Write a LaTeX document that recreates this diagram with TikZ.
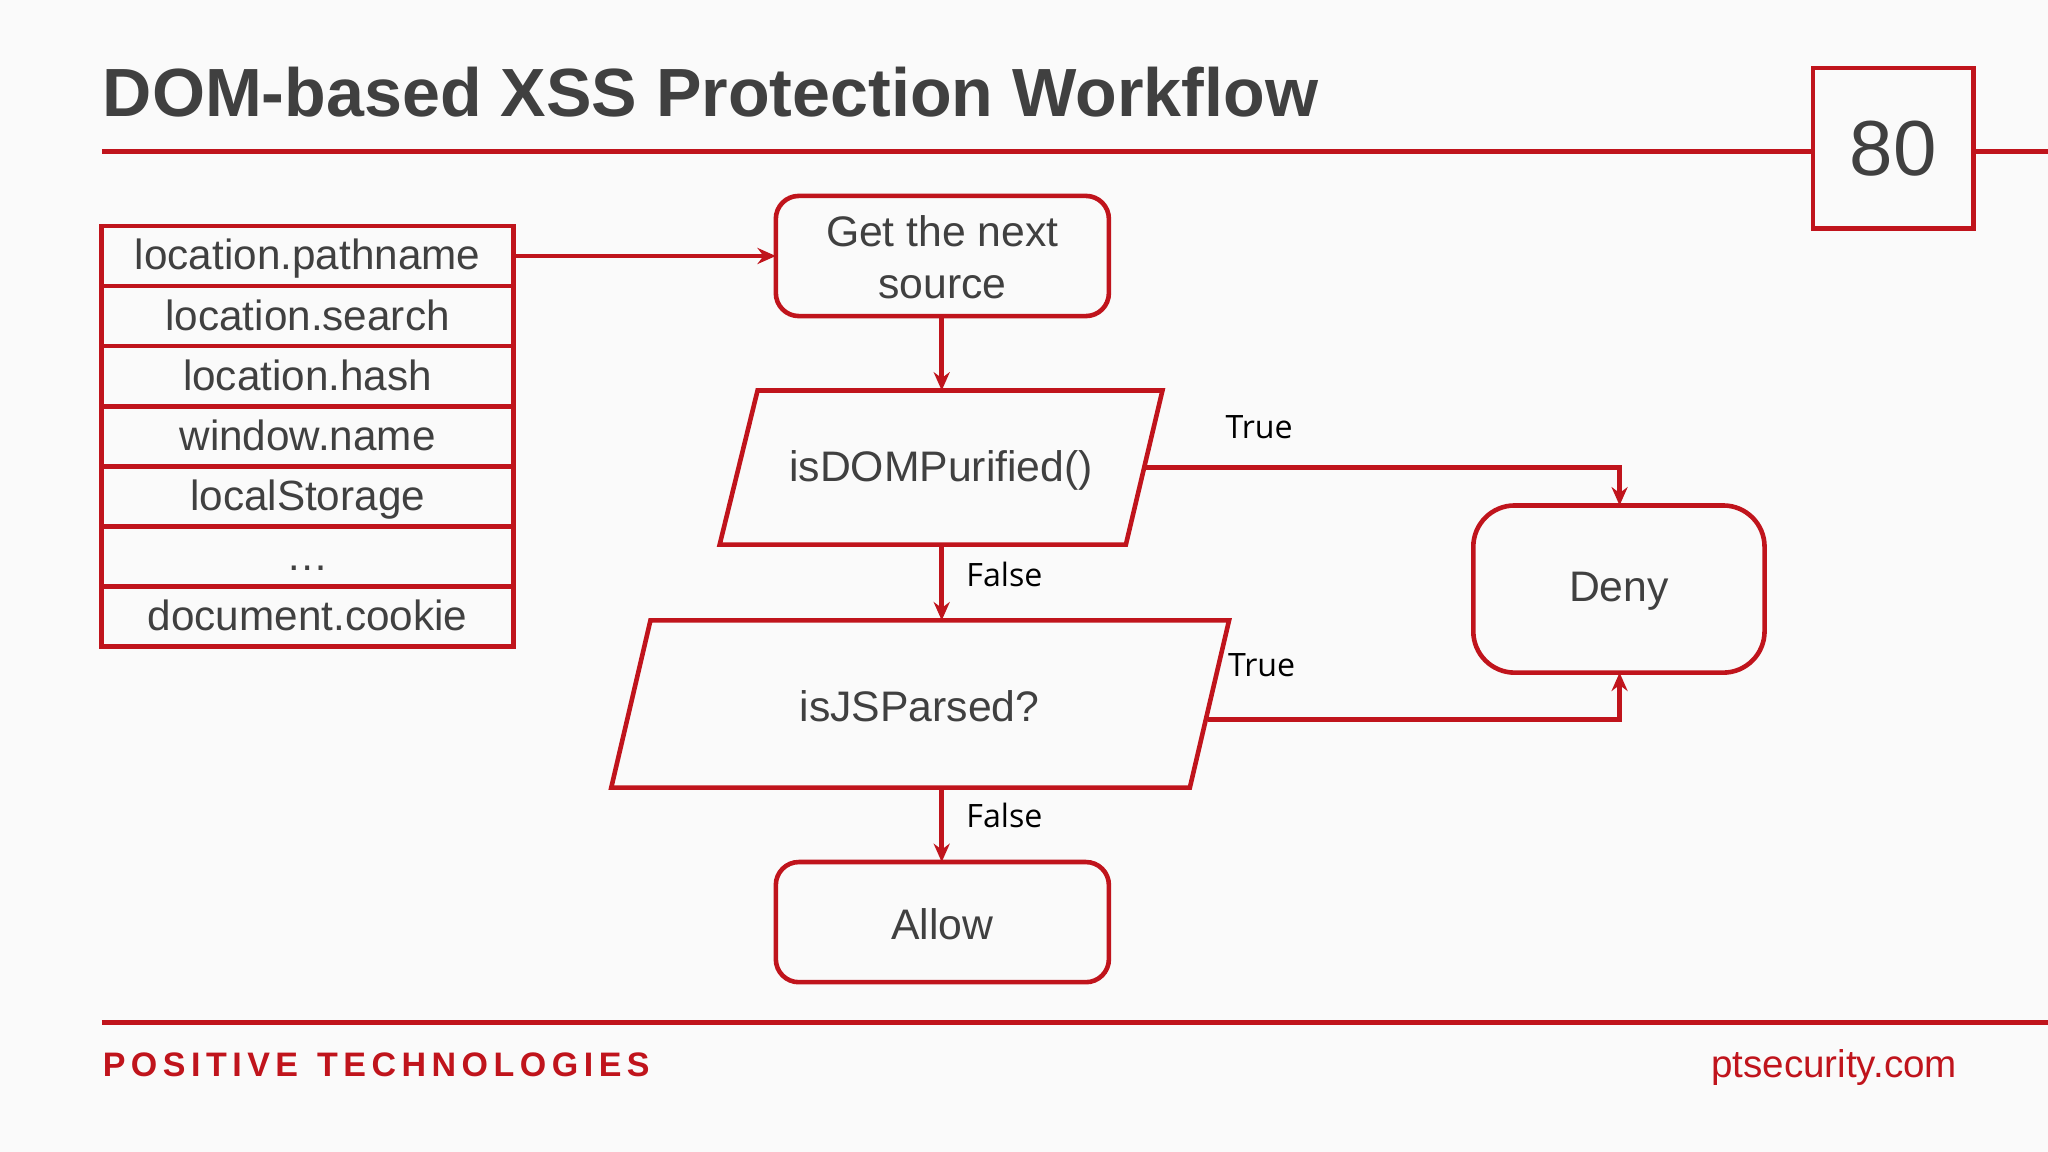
\documentclass[tikz,border=0pt]{standalone}
\usepackage{fontspec}
\setmainfont{Liberation Sans}
\newfontfamily\opensans{Open Sans}
\usetikzlibrary{arrows.meta}
\definecolor{ptred}{HTML}{C0141C}
\definecolor{txt}{HTML}{404040}
\tikzset{
  box/.style={draw=ptred,line width=1pt,rounded corners=5pt},
  cell/.style={draw=ptred,line width=1pt,minimum width=3.15cm,minimum height=0.46cm,inner sep=0pt,text height=1.6ex,text depth=0.45ex,font=\fontsize{9.2pt}{10pt}\selectfont,text=txt},
  conn/.style={draw=ptred,line width=1pt,-{Stealth[length=4pt,width=3.5pt]}},
  lbl/.style={font=\opensans\fontsize{7pt}{8pt}\selectfont,text=black},
  main/.style={font=\fontsize{9.3pt}{11.5pt}\selectfont,text=txt,align=center}
}
\begin{document}
\begin{tikzpicture}[x=0.01cm,y=-0.01cm]
\useasboundingbox[fill=white!98!black] (0,0) rectangle (1568,882);
\node[anchor=base west,inner sep=0,font=\bfseries\fontsize{14.85pt}{18pt}\selectfont,text=txt] (title) at (78,89) {DOM-based XSS Protection Workflow};
\draw[ptred,line width=1pt] (78,116) -- (1388,116) (1511,116) -- (1568,116);
\node[draw=ptred,line width=1pt,minimum width=1.23cm,minimum height=1.23cm,inner sep=0,font=\fontsize{17pt}{20pt}\selectfont,text=txt] (num) at (1449.5,113.5) {80};
% list
\foreach \n/\t [count=\i] in {a/location.pathname,b/location.search,c/location.hash,d/window.name,e/localStorage,f/\ldots,g/document.cookie}
  \node[cell] (\n) at (235.5,{173+23+46*(\i-1)}) {\t};
% boxes
\draw[box] (594,150) rectangle (849,242);
\node[main] (get) at (721.5,197) {Get the next\\source};
\draw[ptred,line width=1pt] (580,299) -- (890,299) -- (862,417) -- (551,417) -- cycle;
\node[main] (dom) at (720.5,360) {isDOMPurified()};
\draw[ptred,line width=1pt] (498,475) -- (941,475) -- (911,603) -- (468,603) -- cycle;
\node[main] (js) at (704,541) {isJSParsed?};
\draw[box,rounded corners=9pt] (1128,387) rectangle (1351,515);
\node[main] (deny) at (1239.5,453) {Deny};
\draw[box] (594,660) rectangle (849,752);
\node[main] (allow) at (721.5,708) {Allow};
% coordinates
\coordinate (aR) at (393,196); \coordinate (getL) at (594,196);
\coordinate (getB) at (721,242); \coordinate (domT) at (721,299);
\coordinate (domR) at (876,358); \coordinate (denyT) at (1240,387);
\coordinate (domB) at (721,417); \coordinate (jsT) at (721,475);
\coordinate (jsR) at (925,551); \coordinate (denyB) at (1240,515);
\coordinate (jsB) at (721,603); \coordinate (allowT) at (721,660);
\draw[conn] (aR) -- (getL);
\draw[conn] (getB) -- (domT);
\draw[conn] (domR) -| (denyT);
\draw[conn] (domB) -- (jsT);
\draw[conn] (jsR) -| (denyB);
\draw[conn] (jsB) -- (allowT);
\node[lbl] (t1) at (964,327) {True};
\node[lbl] (f1) at (769,440) {False};
\node[lbl] (t2) at (966,509) {True};
\node[lbl] (f2) at (769,624) {False};
% footer
\draw[ptred,line width=1pt] (78,783) -- (1568,783);
\node[anchor=west,inner sep=0,font=\bfseries\fontsize{7.4pt}{9pt}\selectfont,text=ptred] (logo) at (78,815) {P\kern1.2pt O\kern1.2pt S\kern1.2pt I\kern1.2pt T\kern1.2pt I\kern1.2pt V\kern1.2pt E\ \ T\kern1.2pt E\kern1.2pt C\kern1.2pt H\kern1.2pt N\kern1.2pt O\kern1.2pt L\kern1.2pt O\kern1.2pt G\kern1.2pt I\kern1.2pt E\kern1.2pt S};
\node[anchor=east,inner sep=0,font=\fontsize{8.4pt}{10pt}\selectfont,text=ptred] (site) at (1499,817) {ptsecurity.com};
\end{tikzpicture}
\end{document}
